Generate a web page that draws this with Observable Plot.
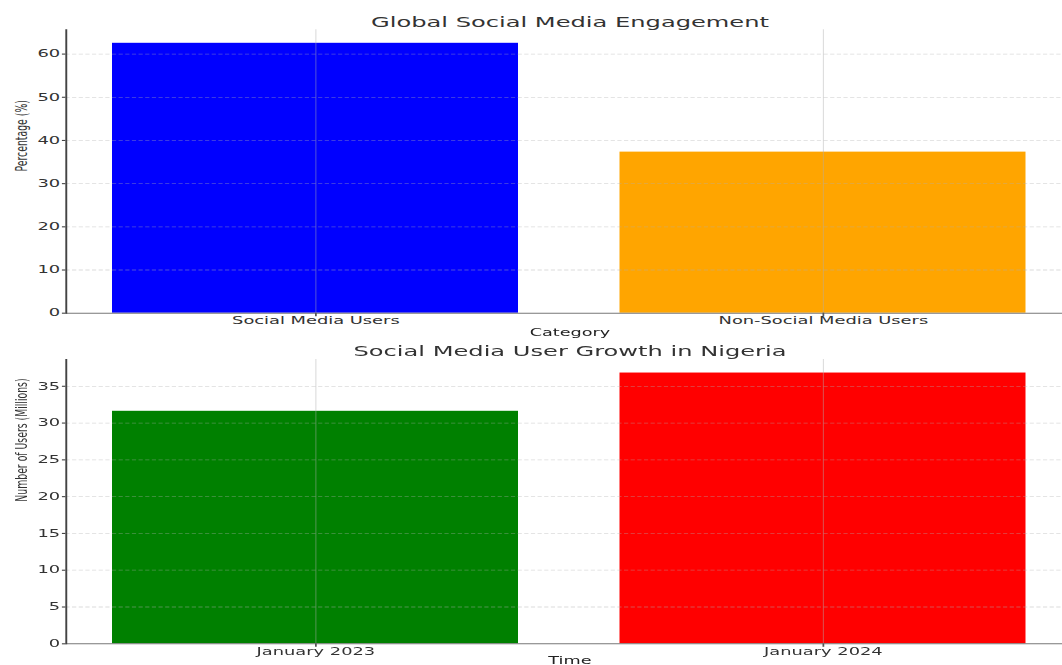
<!DOCTYPE html>
<html><head><meta charset="utf-8">
<script src="https://cdn.jsdelivr.net/npm/d3@7"></script>
<script src="https://cdn.jsdelivr.net/npm/@observablehq/plot@0.6"></script>
<style>
html,body{margin:0;padding:0;background:#fff;overflow:hidden;width:1062px;height:665px;}
#wrap{position:absolute;left:0;top:0;width:614px;height:665px;transform:scaleX(1.75);transform-origin:0 0;}
#top,#bottom{position:absolute;left:0;}
#top{top:0}
#bottom{top:340px}
svg{display:block}
</style></head><body>
<div id="wrap"><div id="top"></div><div id="bottom"></div></div>
<script>
const engagementCategories = ["Social Media Users", "Non-Social Media Users"];
const engagementPercent = [62.5, 37.3];
const engagementTicks = [0, 10, 20, 30, 40, 50, 60];
const growthPeriods = ["January 2023", "January 2024"];
const growthUsersMillions = [31.6, 36.8];
const growthTicks = [0, 5, 10, 15, 20, 25, 30, 35];

const FONT = "DejaVu Sans, sans-serif";

function panel({title, xLabel, yLabel, cats, vals, ticks, colors, height, marginTop, marginBottom, xLabelDy}) {
  const data = cats.map((c, i) => ({cat: c, value: vals[i]}));
  const yMax = d3.max(vals) * 1.05;
  return Plot.plot({
    width: 614, height, marginLeft: 37.37, marginRight: 0.97, marginTop, marginBottom,
    style: {fontFamily: FONT, color: "#333", background: "white", overflow: "visible"},
    x: {type: "band", domain: cats, paddingInner: 0.2, paddingOuter: 0.09, axis: null},
    y: {domain: [0, yMax], axis: null},
    color: {domain: cats, range: colors},
    marks: [
      Plot.barY(data, {x: "cat", y: "value", fill: "cat"}),
      Plot.gridY(ticks.filter(t => t > 0), {stroke: "#b0b0b0", strokeOpacity: 0.45, strokeDasharray: "2.4,1.4", strokeWidth: 0.8}),
      Plot.gridX(cats, {stroke: "#b0b0b0", strokeOpacity: 0.45, strokeWidth: 0.6}),
      Plot.ruleY([0], {stroke: "#777", strokeWidth: 1.1}),
      Plot.frame({anchor: "left", stroke: "#444", strokeWidth: 1.1}),
      Plot.axisY({ticks, tickSize: 2, tickPadding: 1.5, fontSize: 10.2, label: null, stroke: "#444", fill: "#333", strokeWidth: 1.1}),
      Plot.axisX({tickSize: 3.5, tickPadding: 0, fontSize: 10.2, label: null, stroke: "#555", fill: "#333"}),
      Plot.text([title], {text: d => d, frameAnchor: "top", lineAnchor: "middle", dy: -7.7, fontSize: 13.8, fill: "#333"}),
      Plot.text([xLabel], {text: d => d, frameAnchor: "bottom", lineAnchor: "middle", dy: xLabelDy, fontSize: 10.1, fill: "#222"}),
      Plot.text([yLabel], {text: d => d, frameAnchor: "left", lineAnchor: "middle", rotate: -90, dx: -25.7, fontSize: 9.3, fill: "#333"})
    ]
  });
}

document.getElementById("top").append(panel({
  title: "Global Social Media Engagement", xLabel: "Category", yLabel: "Percentage (%)",
  cats: engagementCategories, vals: engagementPercent, ticks: engagementTicks,
  colors: ["#0000ff", "#ffa500"], height: 340, marginTop: 29.3, marginBottom: 27.3, xLabelDy: 19.8
}));
document.getElementById("bottom").append(panel({
  title: "Social Media User Growth in Nigeria", xLabel: "Time", yLabel: "Number of Users (Millions)",
  cats: growthPeriods, vals: growthUsersMillions, ticks: growthTicks,
  colors: ["#008000", "#ff0000"], height: 325, marginTop: 19, marginBottom: 21.7, xLabelDy: 17.4
}));
</script>
</body></html>
